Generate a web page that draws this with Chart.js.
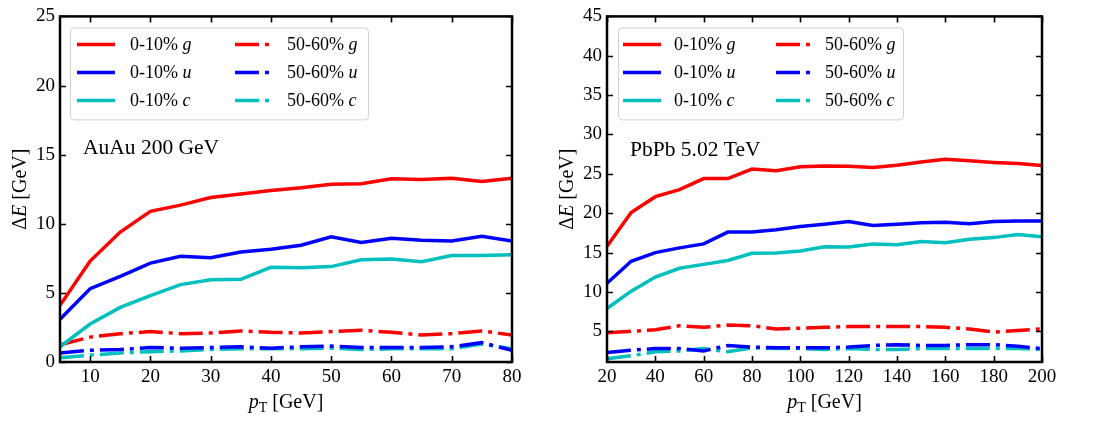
<!DOCTYPE html>
<html lang="en">
<head>
<meta charset="UTF-8">
<title>Energy loss vs pT</title>
<script src="https://cdn.jsdelivr.net/npm/chart.js"></script>
<style>
  body { margin: 0; background: #ffffff; }
  .panel { position: absolute; top: 0; height: 424px; }
  #leftBox { left: 0; width: 540px; }
  #rightBox { left: 540px; width: 557px; }
</style>
</head>
<body>
<div class="panel" id="leftBox"><canvas id="auauChart"></canvas></div>
<div class="panel" id="rightBox"><canvas id="pbpbChart"></canvas></div>
<script>
// ---- data ----
const seriesLabels = ['0-10% g', '0-10% u', '0-10% c', '50-60% g', '50-60% u', '50-60% c'];
const seriesColors = ['#ff0000', '#0000ff', '#00bfbf', '#ff0000', '#0000ff', '#00bfbf'];

// AuAu 200 GeV
const ptAuAu = [5, 10, 15, 20, 25, 30, 35, 40, 45, 50, 55, 60, 65, 70, 75, 80];
const auauCentralG = [4.1, 7.3, 9.4, 10.9, 11.35, 11.9, 12.15, 12.4, 12.6, 12.85, 12.9, 13.25, 13.2, 13.3, 13.05, 13.3];
const auauCentralU = [3.1, 5.3, 6.2, 7.15, 7.65, 7.55, 7.95, 8.15, 8.45, 9.05, 8.65, 8.95, 8.8, 8.75, 9.1, 8.75];
const auauCentralC = [1.1, 2.75, 3.95, 4.8, 5.6, 5.95, 5.98, 6.85, 6.82, 6.9, 7.4, 7.45, 7.25, 7.7, 7.7, 7.75];
const auauPeriphG = [1.25, 1.8, 2.05, 2.2, 2.05, 2.1, 2.25, 2.15, 2.1, 2.2, 2.3, 2.15, 1.95, 2.05, 2.25, 1.95];
const auauPeriphU = [0.65, 0.85, 0.9, 1.05, 1.0, 1.05, 1.1, 1.0, 1.1, 1.15, 1.05, 1.05, 1.05, 1.1, 1.4, 0.85];
const auauPeriphC = [0.3, 0.5, 0.65, 0.75, 0.8, 0.9, 0.95, 0.95, 0.95, 1.0, 0.9, 0.95, 0.95, 0.95, 1.3, 0.95];
const auauXTicks = [10, 20, 30, 40, 50, 60, 70, 80];
const auauYTicks = [0, 5, 10, 15, 20, 25];

// PbPb 5.02 TeV
const ptPbPb = [20, 30, 40, 50, 60, 70, 80, 90, 100, 110, 120, 130, 140, 150, 160, 170, 180, 190, 200];
const pbpbCentralG = [15.8, 20.1, 22.1, 23.0, 24.4, 24.4, 25.6, 25.4, 25.9, 26.0, 25.95, 25.8, 26.1, 26.5, 26.85, 26.65, 26.45, 26.3, 26.05];
const pbpbCentralU = [11.1, 13.9, 15.0, 15.6, 16.1, 17.6, 17.6, 17.9, 18.3, 18.6, 18.95, 18.45, 18.6, 18.8, 18.85, 18.65, 18.95, 19.0, 19.0];
const pbpbCentralC = [7.9, 10.1, 11.9, 13.0, 13.5, 14.0, 14.9, 14.95, 15.2, 15.75, 15.7, 16.1, 16.0, 16.4, 16.25, 16.7, 16.9, 17.3, 17.0];
const pbpbPeriphG = [4.8, 5.0, 5.2, 5.7, 5.5, 5.8, 5.7, 5.3, 5.4, 5.5, 5.6, 5.6, 5.6, 5.6, 5.5, 5.3, 4.9, 5.1, 5.3];
const pbpbPeriphU = [2.3, 2.6, 2.8, 2.8, 2.5, 3.2, 3.0, 2.9, 2.9, 2.9, 3.0, 3.2, 3.3, 3.2, 3.2, 3.3, 3.3, 3.1, 2.8];
const pbpbPeriphC = [1.5, 1.9, 2.4, 2.5, 2.8, 2.4, 2.9, 2.8, 2.8, 2.7, 2.8, 2.7, 2.7, 2.8, 2.8, 2.8, 2.8, 2.8, 2.7];
const pbpbXTicks = [20, 40, 60, 80, 100, 120, 140, 160, 180, 200];
const pbpbYTicks = [5, 10, 15, 20, 25, 30, 35, 40, 45];

const SERIF = '"Liberation Serif", "Times New Roman", serif';
const DASHDOT = [24, 6, 4, 6];

function makeDatasets(xs, ys) {
  return ys.map((vals, i) => ({
    label: seriesLabels[i],
    data: vals.map((v, j) => ({ x: xs[j], y: v })),
    borderColor: seriesColors[i],
    borderWidth: 3.5,
    borderDash: i < 3 ? [] : DASHDOT,
    borderCapStyle: 'butt',
    pointRadius: 0,
    tension: 0,
    fill: false
  }));
}

// draw a string made of runs with different fonts (italic letters, subscripts)
function drawRuns(ctx, runs, x, y, align) {
  let total = 0;
  runs.forEach(r => { ctx.font = r.f; r.w = ctx.measureText(r.t).width; total += r.w; });
  let cx = align === 'center' ? x - total / 2 : x;
  runs.forEach(r => {
    ctx.font = r.f;
    ctx.fillText(r.t, cx, y + (r.dy || 0));
    cx += r.w;
  });
}

// frame, inward ticks, legend, annotation and axis titles
const decorPlugin = {
  id: 'decor',
  afterDraw(chart, args, opts) {
    const { ctx, chartArea: a, scales } = chart;
    ctx.save();
    ctx.strokeStyle = '#000';
    ctx.fillStyle = '#000';

    // inward ticks on all four sides
    ctx.lineWidth = 1.6;
    ctx.beginPath();
    scales.x.ticks.forEach(t => {
      const px = Math.round(scales.x.getPixelForValue(t.value)) + 0.5;
      ctx.moveTo(px, a.bottom); ctx.lineTo(px, a.bottom - 6);
      ctx.moveTo(px, a.top); ctx.lineTo(px, a.top + 6);
    });
    scales.y.ticks.forEach(t => {
      const py = Math.round(scales.y.getPixelForValue(t.value)) + 0.5;
      ctx.moveTo(a.left, py); ctx.lineTo(a.left + 6, py);
      ctx.moveTo(a.right, py); ctx.lineTo(a.right - 6, py);
    });
    ctx.stroke();

    // frame
    ctx.lineWidth = 2.5;
    ctx.strokeRect(a.left, a.top, a.right - a.left, a.bottom - a.top);

    // legend box
    const bx = a.left + opts.legendX, by = a.top + 11;
    ctx.fillStyle = 'rgba(255,255,255,0.85)';
    ctx.strokeStyle = '#d0d0d0';
    ctx.lineWidth = 1;
    ctx.beginPath();
    ctx.roundRect(bx + 0.5, by + 0.5, opts.legendW, 92, 4);
    ctx.fill();
    ctx.stroke();

    ctx.textBaseline = 'middle';
    ctx.textAlign = 'left';
    const rowY = [17, 45, 73];
    chart.data.datasets.forEach((ds, i) => {
      const col = i < 3 ? 0 : 1;
      const lx = bx + opts.colX[col];
      const ly = by + rowY[i % 3];
      ctx.strokeStyle = ds.borderColor;
      ctx.lineWidth = 3.5;
      ctx.lineCap = 'butt';
      ctx.setLineDash(ds.borderDash || []);
      ctx.beginPath();
      ctx.moveTo(lx, ly); ctx.lineTo(lx + 38, ly);
      ctx.stroke();
      ctx.setLineDash([]);
      const parts = ds.label.split(' ');
      ctx.fillStyle = '#000';
      drawRuns(ctx, [
        { t: parts[0] + ' ', f: '18px ' + SERIF },
        { t: parts[1], f: 'italic 18px ' + SERIF }
      ], lx + opts.textOff[col], ly + 1, 'left');
    });

    // collision system annotation
    ctx.fillStyle = '#000';
    ctx.font = '21.5px ' + SERIF;
    ctx.fillText(opts.system, a.left + 23, opts.systemY);

    // axis titles
    ctx.textBaseline = 'alphabetic';
    drawRuns(ctx, [
      { t: 'p', f: 'italic 20px ' + SERIF },
      { t: 'T', f: '14px ' + SERIF, dy: 4 },
      { t: ' [GeV]', f: '20px ' + SERIF }
    ], (a.left + a.right) / 2, a.bottom + 46, 'center');

    ctx.translate(a.left - 34, (a.top + a.bottom) / 2);
    ctx.rotate(-Math.PI / 2);
    drawRuns(ctx, [
      { t: '\u0394', f: '20px ' + SERIF },
      { t: 'E', f: 'italic 20px ' + SERIF },
      { t: ' [GeV]', f: '20px ' + SERIF }
    ], 0, 0, 'center');
    ctx.restore();
  }
};

function makeChart(id, xs, ys, xr, yr, xTicks, yTicks, yWidth, pad, decor) {
  return new Chart(document.getElementById(id), {
    type: 'line',
    data: { datasets: makeDatasets(xs, ys) },
    plugins: [decorPlugin],
    options: {
      responsive: true,
      maintainAspectRatio: false,
      animation: false,
      layout: { padding: pad },
      plugins: {
        legend: { display: false },
        tooltip: { enabled: false },
        decor: decor
      },
      scales: {
        x: {
          type: 'linear',
          min: xr[0], max: xr[1],
          grid: { display: false, drawTicks: false },
          border: { display: false },
          afterBuildTicks: s => { s.ticks = xTicks.map(v => ({ value: v })); },
          afterFit: s => { s.height = 62; },
          ticks: { color: '#000', padding: 4, font: { family: SERIF, size: 19 }, maxRotation: 0, callback: v => String(v) }
        },
        y: {
          type: 'linear',
          min: yr[0], max: yr[1],
          grid: { display: false, drawTicks: false },
          border: { display: false },
          afterBuildTicks: s => { s.ticks = yTicks.map(v => ({ value: v })); },
          afterFit: s => { s.width = yWidth; },
          ticks: { color: '#000', padding: 5, font: { family: SERIF, size: 19 }, callback: v => String(v) }
        }
      }
    }
  });
}

makeChart('auauChart', ptAuAu,
  [auauCentralG, auauCentralU, auauCentralC, auauPeriphG, auauPeriphU, auauPeriphC],
  [5, 80], [0, 25], auauXTicks, auauYTicks, 60,
  { top: 7, right: 28, left: 0, bottom: 0 },
  { legendX: 10, legendW: 298, colX: [7, 165], textOff: [53, 52], system: 'AuAu 200 GeV', systemY: 148 });

makeChart('pbpbChart', ptPbPb,
  [pbpbCentralG, pbpbCentralU, pbpbCentralC, pbpbPeriphG, pbpbPeriphU, pbpbPeriphC],
  [20, 200], [1.1, 45], pbpbXTicks, pbpbYTicks, 67,
  { top: 11, right: 55, left: 0, bottom: 0 },
  { legendX: 11, legendW: 285, colX: [5, 158], textOff: [51, 49], system: 'PbPb 5.02 TeV', systemY: 150 });
</script>
</body>
</html>
